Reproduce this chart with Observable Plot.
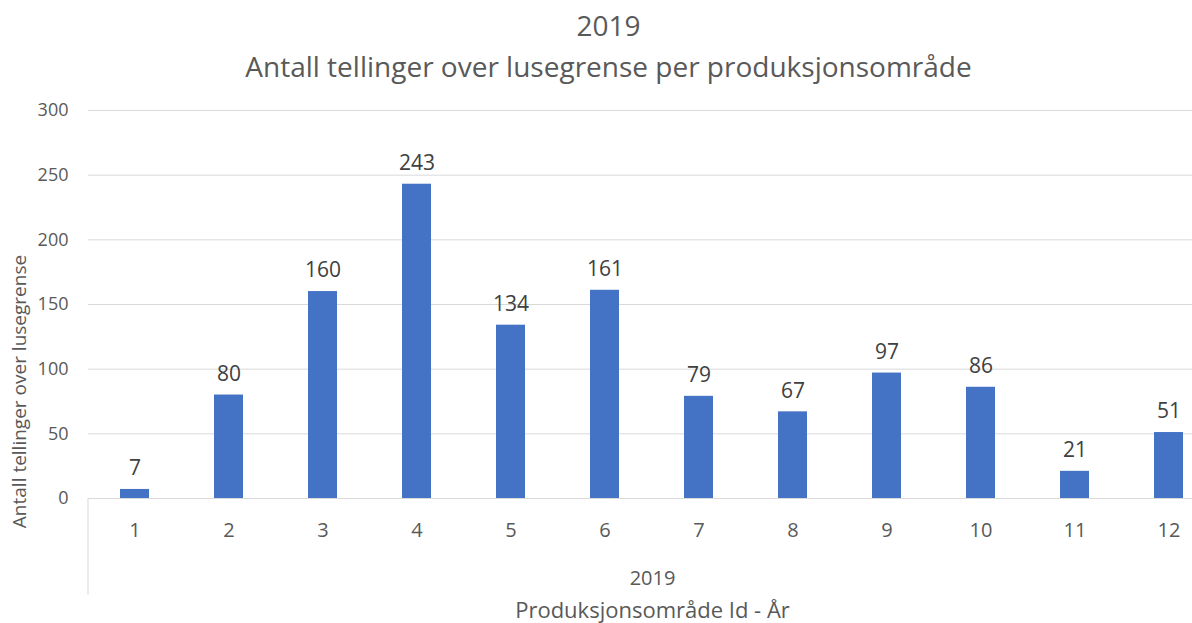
<!DOCTYPE html>
<html>
<head>
<meta charset="utf-8">
<script src="https://cdn.jsdelivr.net/npm/d3@7"></script>
<script src="https://cdn.jsdelivr.net/npm/@observablehq/plot@0.6"></script>
<style>
  html, body { margin: 0; padding: 0; background: #fff; overflow: hidden; }
  #chart { width: 1216px; }
</style>
</head>
<body>
<div id="chart"></div>
<script>
const areas = ["1","2","3","4","5","6","7","8","9","10","11","12"];
const counts = [7, 80, 160, 243, 134, 161, 79, 67, 97, 86, 21, 51];
const yTicks = [0, 50, 100, 150, 200, 250, 300];
const titleText = "2019";
const subtitleText = "Antall tellinger over lusegrense per produksjonsområde";
const yTitle = "Antall tellinger over lusegrense";
const groupLabel = "2019";
const xTitle = "Produksjonsområde Id - År";

const data = areas.map((a, i) => ({area: a, count: counts[i]}));
const step = 1128 / 12;
const textColor = "#595959";
const font = "'Open Sans', 'Noto Sans', sans-serif";

const chart = Plot.plot({
  width: 1216,
  height: 623,
  marginLeft: 88,
  marginRight: 0,
  marginTop: 110,
  marginBottom: 125,
  style: {fontFamily: font, color: textColor, background: "#fff", overflow: "visible"},
  x: {domain: areas, paddingInner: 0.69, paddingOuter: 0.345, axis: null},
  y: {domain: [0, 300], axis: null},
  marks: [
    Plot.gridY(yTicks, {stroke: "#d9d9d9", strokeOpacity: 1, strokeWidth: 1}),
    Plot.barY(data, {x: "area", y: "count", fill: "#4472C4"}),
    Plot.ruleY([0], {stroke: "#d9d9d9", strokeWidth: 1}),
    Plot.ruleX([areas[0]], {x: d => d, y1: () => 0, y2: () => -75, dx: -step / 2, stroke: "#d9d9d9", strokeWidth: 1}),
    Plot.axisY({ticks: yTicks, tickSize: 0, tickPadding: 20, fontSize: 18, label: null}),
    Plot.axisX({tickSize: 0, tickPadding: 24, fontSize: 20, label: null}),
    Plot.text(data, {x: "area", y: "count", text: d => String(d.count), dy: -21, lineAnchor: "middle", fontSize: 21, fill: "#404040"}),
    Plot.text([titleText], {frameAnchor: "top", text: d => d, dx: -44, dy: -83, lineAnchor: "middle", fontSize: 28, fill: textColor}),
    Plot.text([subtitleText], {frameAnchor: "top", text: d => d, dx: -44, dy: -42, lineAnchor: "middle", fontSize: 28, fill: textColor}),
    Plot.text([groupLabel], {frameAnchor: "bottom", text: d => d, dy: 80, lineAnchor: "middle", fontSize: 20, fill: textColor}),
    Plot.text([xTitle], {frameAnchor: "bottom", text: d => d, dy: 112, lineAnchor: "middle", fontSize: 22, fill: textColor}),
    Plot.text([yTitle], {frameAnchor: "left", text: d => d, rotate: -90, dx: -69, dy: 87, textAnchor: "middle", lineAnchor: "middle", fontSize: 19, fill: textColor})
  ]
});
document.getElementById("chart").appendChild(chart);
</script>
</body>
</html>
